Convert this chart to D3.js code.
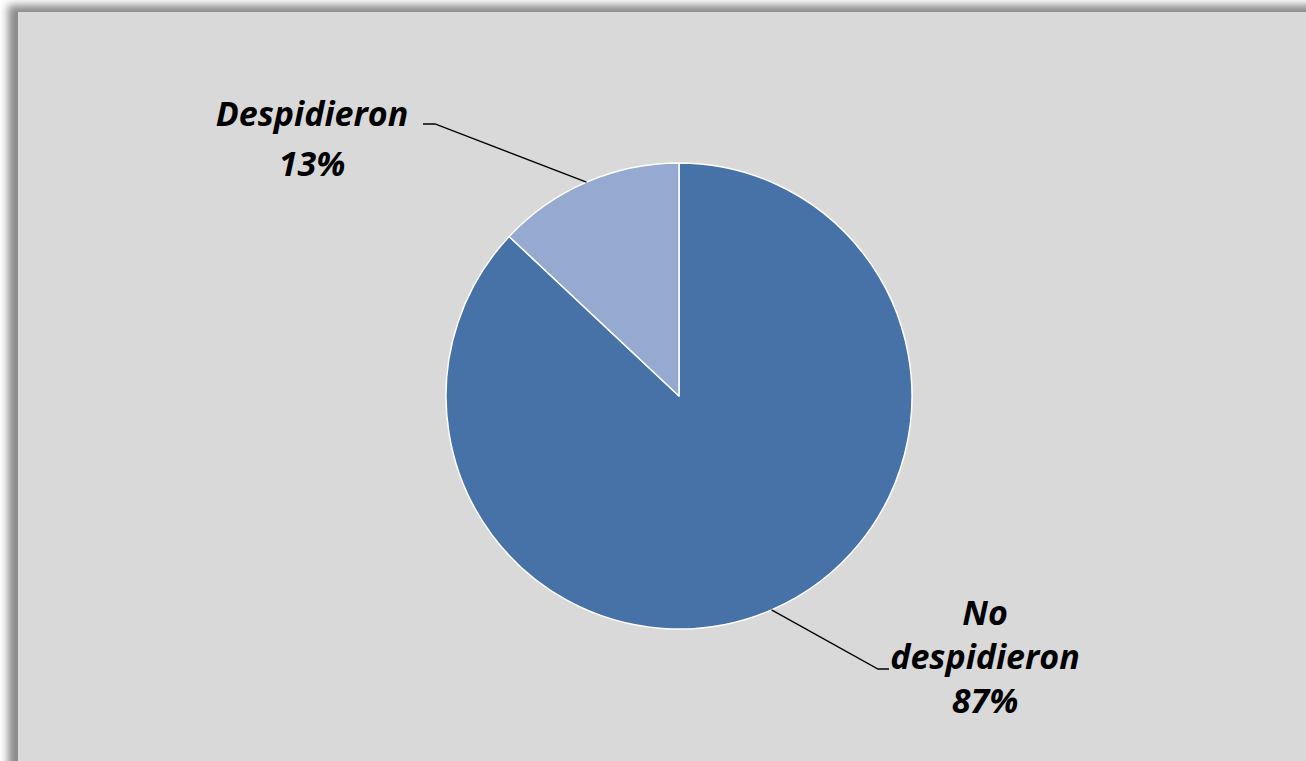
<!DOCTYPE html>
<html>
<head>
<meta charset="utf-8">
<script src="https://cdn.jsdelivr.net/npm/d3@7"></script>
<style>
  body { margin: 0; background: #fff; }
  svg { display: block; }
</style>
</head>
<body>
<svg width="1306" height="761"></svg>
<script>
// data
var categories = ["No despidieron", "Despidieron"];
var values = [87, 13];
var labelLines = [["No", "despidieron", "87%"], ["Despidieron", "13%"]];
var colors = ["#4672a8", "#95a9d1"];

var svg = d3.select("svg");
var W = 1306, H = 761;

// chart frame with soft shadow
var defs = svg.append("defs");
defs.append("filter").attr("id", "shadow")
    .attr("x", "-5%").attr("y", "-5%").attr("width", "110%").attr("height", "110%")
    .append("feGaussianBlur").attr("stdDeviation", 4);

svg.append("rect")
    .attr("x", 8).attr("y", 5)
    .attr("width", W + 40).attr("height", H + 40)
    .attr("fill", "#8a8a8a")
    .attr("filter", "url(#shadow)");

svg.append("rect")
    .attr("x", 18).attr("y", 12)
    .attr("width", W).attr("height", H)
    .attr("fill", "#d9d9d9");

var cx = 679, cy = 396, r = 233;
var g = svg.append("g").attr("transform", "translate(" + cx + "," + cy + ")");

var data = categories.map(function (c, i) {
    return { name: c, value: values[i], lines: labelLines[i], color: colors[i] };
});

var pie = d3.pie().sort(null).value(function (d) { return d.value; });
var arc = d3.arc().innerRadius(0).outerRadius(r);
var edge = d3.arc().innerRadius(r).outerRadius(r);

var arcs = pie(data);

g.selectAll("path.slice")
    .data(arcs)
    .enter().append("path")
    .attr("class", "slice")
    .attr("d", arc)
    .attr("fill", function (d) { return d.data.color; })
    .attr("stroke", "#fff")
    .attr("stroke-width", 1.5)
    .attr("stroke-linejoin", "round");

// label layout (relative to pie center): elbow point, line end, text center and first baseline, line step
var layout = {
    "No despidieron": { elbow: [199, 273], end: [210, 273], tx: 306, ty: 229, step: 44 },
    "Despidieron": { elbow: [-244, -272], end: [-256, -272], tx: -367, ty: -270, step: 50 }
};

arcs.forEach(function (d) {
    var L = layout[d.data.name];
    var p0 = edge.centroid(d);
    g.append("polyline")
        .attr("points", [p0, L.elbow, L.end].map(function (p) { return p.join(","); }).join(" "))
        .attr("fill", "none")
        .attr("stroke", "#000")
        .attr("stroke-width", 1.3);

    var t = g.append("text")
        .attr("text-anchor", "middle")
        .attr("font-family", "'Open Sans', sans-serif")
        .attr("font-weight", "bold")
        .attr("font-style", "italic")
        .attr("font-size", 34)
        .attr("fill", "#000");
    d.data.lines.forEach(function (s, i) {
        t.append("tspan")
            .attr("x", L.tx)
            .attr("y", L.ty + i * L.step)
            .text(s);
    });
});
</script>
</body>
</html>
